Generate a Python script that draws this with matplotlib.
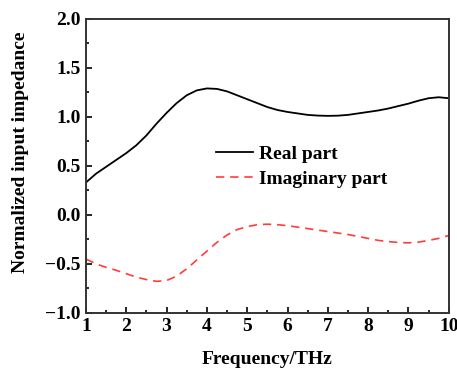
import numpy as np
import matplotlib
matplotlib.use("Agg")
import matplotlib.pyplot as plt
from matplotlib.ticker import MultipleLocator

# frequency sweep (THz)
freq = [1.0, 1.25, 1.5, 1.75, 2.0, 2.25, 2.5, 2.75, 3.0, 3.25, 3.5, 3.75,
        4.0, 4.25, 4.5, 4.75, 5.0, 5.25, 5.5, 5.75, 6.0, 6.25, 6.5, 6.75,
        7.0, 7.25, 7.5, 7.75, 8.0, 8.25, 8.5, 8.75, 9.0, 9.25, 9.5, 9.75, 10.0]

# normalized input impedance, real part
z_real = [0.33, 0.42, 0.49, 0.56, 0.63, 0.71, 0.81, 0.93, 1.04, 1.14, 1.22, 1.27,
          1.29, 1.285, 1.26, 1.22, 1.18, 1.14, 1.10, 1.07, 1.05, 1.035, 1.02, 1.013,
          1.01, 1.012, 1.02, 1.035, 1.05, 1.065, 1.085, 1.11, 1.135, 1.165, 1.19, 1.20, 1.19]

# normalized input impedance, imaginary part
z_imag = [-0.45, -0.50, -0.535, -0.565, -0.60, -0.635, -0.66, -0.678, -0.67, -0.625, -0.55, -0.46,
          -0.37, -0.28, -0.205, -0.15, -0.12, -0.10, -0.095, -0.10, -0.11, -0.125, -0.14, -0.155,
          -0.17, -0.185, -0.20, -0.22, -0.24, -0.26, -0.272, -0.282, -0.285, -0.278, -0.26, -0.24, -0.21]

plt.rcParams['font.family'] = ['Liberation Serif', 'DejaVu Serif']
plt.rcParams['font.weight'] = 'bold'
plt.rcParams['axes.labelweight'] = 'bold'

fig = plt.figure(figsize=(4.57, 3.69), dpi=100)
ax = fig.add_axes([0.188, 0.152, 0.794, 0.797])

ax.plot(freq, z_real, color='black', lw=1.3, label='Real part')
ax.plot(freq, z_imag, color='#ff3c3c', lw=1.2, ls=(0, (5, 3.5)), label='Imaginary part')

ax.set_xlim(1, 10)
ax.set_ylim(-1.0, 2.0)
ax.xaxis.set_major_locator(MultipleLocator(1))
ax.xaxis.set_minor_locator(MultipleLocator(0.5))
ax.yaxis.set_major_locator(MultipleLocator(0.5))
ax.yaxis.set_minor_locator(MultipleLocator(0.25))
ax.tick_params(which='both', direction='in', width=1.2, labelsize=14, pad=4)
ax.tick_params(which='major', length=4.5)
ax.tick_params(which='minor', length=2.5)
for sp in ax.spines.values():
    sp.set_linewidth(1.4)
    sp.set_color('#333333')

ax.set_xlabel('Frequency/THz', fontsize=14, labelpad=11)
ax.set_ylabel('Normalized input impedance', fontsize=14)
ax.yaxis.set_label_coords(-0.158, 0.545)

ax.legend(loc='upper left', bbox_to_anchor=(0.31, 0.63), frameon=False,
          fontsize=14, handlelength=1.9, handletextpad=0.3, labelspacing=0.4)

fig.savefig('out.png', dpi=100)
